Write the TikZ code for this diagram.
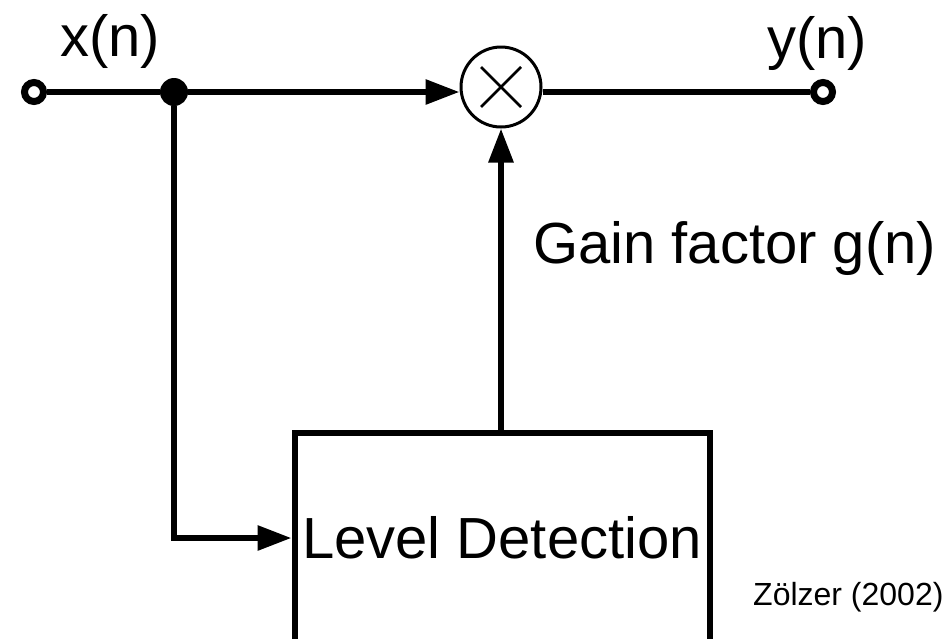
\documentclass[tikz,border=0pt]{standalone}
\usepackage{fontspec}
\setmainfont{Liberation Sans}
\usetikzlibrary{arrows.meta}

\begin{document}
\begin{tikzpicture}[
    x=1pt, y=-1pt,
    >={Triangle[length=34pt,width=24pt]},
    line/.style={line width=6pt},
    arr/.style={->, line width=6pt},
    box/.style={
        draw,
        line width=6pt,
        minimum width=415pt,
        minimum height=210pt,
        inner sep=0pt,
        align=center,
        font=\fontsize{58}{60}\selectfont
    },
    mulc/.style={draw, circle, line width=3pt, minimum size=80pt, inner sep=0pt},
    term/.style={draw, circle, line width=7pt, fill=white, minimum size=19pt, inner sep=0pt},
    junc/.style={circle, fill=black, minimum size=28pt, inner sep=0pt},
    lab/.style={anchor=base west, inner sep=0pt, font=\fontsize{58}{60}\selectfont}
]
    \useasboundingbox (0,0) rectangle (949,638);
    \clip (0,0) rectangle (949,638);

    \node[term] (in) at (34,92) {};
    \node[junc] (dot) at (174,92) {};
    \node[mulc] (mul) at (501,87) {};
    \node[term] (out) at (823,92) {};
    \node[box] (ld) at (502,538) {Level Detection};

    \draw[line] (in) -- (dot);
    \draw[arr] (dot) -- (dot -| mul.west);
    \draw[line] (mul.east |- out) -- (out);
    \draw[arr] (dot) |- (ld.west);
    \draw[arr] (mul |- ld.north) -- (mul.south);
    \draw[line width=2.5pt] (mul) +(-20,-20) -- +(20,20)
        (mul) +(-20,20) -- +(20,-20);

    \node[lab] (xn) at (60,56) {x(n)};
    \node[lab] (yn) at (767,58) {y(n)};
    \node[lab] (gain) at (533,263) {Gain factor g(n)};
    \node[anchor=base west, inner sep=0pt, font=\fontsize{32}{34}\selectfont]
        (src) at (753,605) {Zölzer (2002)};
\end{tikzpicture}
\end{document}
